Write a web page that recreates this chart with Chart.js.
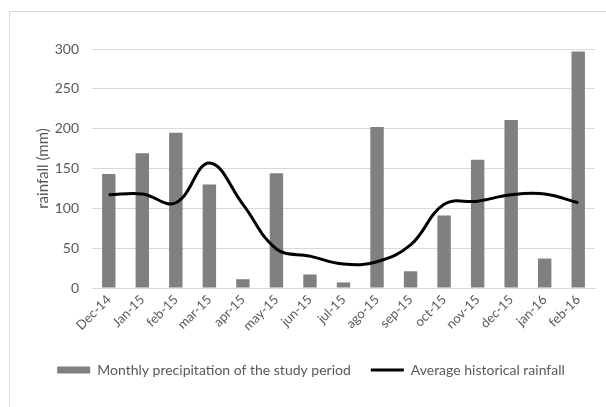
<!DOCTYPE html>
<html>
<head>
<meta charset="utf-8">
<script src="https://cdn.jsdelivr.net/npm/chart.js@4.4.0/dist/chart.umd.min.js"></script>
<style>
  html, body { margin: 0; padding: 0; background: #fff; }
  #wrap { position: relative; width: 606px; height: 407px; overflow: hidden; }
  #frame { position: absolute; left: 9px; top: 11px; width: 620px; height: 420px; border: 1px solid #d9d9d9; box-sizing: border-box; }
  canvas { position: absolute; left: 0; top: 0; }
</style>
</head>
<body>
<div id="wrap">
  <div id="frame"></div>
  <canvas id="c" width="606" height="407"></canvas>
</div>
<script>
const categories = ["Dec-14","Jan-15","feb-15","mar-15","apr-15","may-15","jun-15","jul-15","ago-15","sep-15","oct-15","nov-15","dec-15","jan-16","feb-16"];
const monthlyPrecipitation = [143, 169, 195, 130, 11, 144, 17, 7, 202, 21, 91, 161, 211, 37, 297];
const averageHistorical = [117, 118, 107, 157, 105, 49, 40, 30, 33, 54, 105, 109, 117, 118, 107];
const yTicks = [0, 50, 100, 150, 200, 250, 300];

const FONT = "Lato, 'Open Sans', sans-serif";
const TXT = "#595959";

new Chart(document.getElementById('c'), {
  data: {
    labels: categories,
    datasets: [
      {
        type: 'line',
        label: 'Average historical rainfall',
        data: averageHistorical,
        borderColor: '#000000',
        backgroundColor: '#000000',
        borderWidth: 3,
        pointRadius: 0,
        tension: 0.4,
        order: 0
      },
      {
        type: 'bar',
        label: 'Monthly precipitation of the study period',
        data: monthlyPrecipitation,
        backgroundColor: '#808080',
        borderWidth: 0,
        barPercentage: 0.4,
        categoryPercentage: 1.0,
        order: 1
      }
    ]
  },
  options: {
    responsive: false,
    animation: false,
    layout: { padding: { left: 27, right: 11, top: 49, bottom: 20 } },
    plugins: {
      tooltip: { enabled: false },
      legend: {
        position: 'bottom',
        labels: {
          font: { family: FONT, size: 14 },
          color: TXT,
          usePointStyle: true,
          pointStyleWidth: 33,
          boxHeight: 7,
          padding: 20,
          generateLabels: function(chart) {
            return [
              { text: 'Monthly precipitation of the study period', fillStyle: '#808080', strokeStyle: '#808080', lineWidth: 0, pointStyle: 'rect', datasetIndex: 1, fontColor: TXT },
              { text: 'Average historical rainfall', fillStyle: '#000000', strokeStyle: '#000000', lineWidth: 3, pointStyle: 'line', datasetIndex: 0, fontColor: TXT }
            ];
          }
        }
      }
    },
    scales: {
      x: {
        grid: { display: false, drawTicks: false },
        border: { display: true, color: '#d9d9d9', width: 1 },
        ticks: { font: { family: FONT, size: 13 }, color: TXT, maxRotation: 45, minRotation: 45, autoSkip: false, padding: 4 },
        afterFit: function(s) { s.height = 55; }
      },
      y: {
        min: 0, max: 300,
        afterBuildTicks: function(s) { s.ticks = yTicks.map(v => ({ value: v })); },
        grid: { color: '#d9d9d9', drawTicks: false, lineWidth: 1 },
        border: { display: false },
        ticks: { font: { family: FONT, size: 14 }, color: TXT, padding: 13 },
        title: { display: true, text: 'rainfall (mm)', font: { family: FONT, size: 15 }, color: TXT, padding: { top: 7, bottom: 0 } },
        afterFit: function(s) { s.width = 65; }
      }
    }
  }
});
</script>
</body>
</html>
